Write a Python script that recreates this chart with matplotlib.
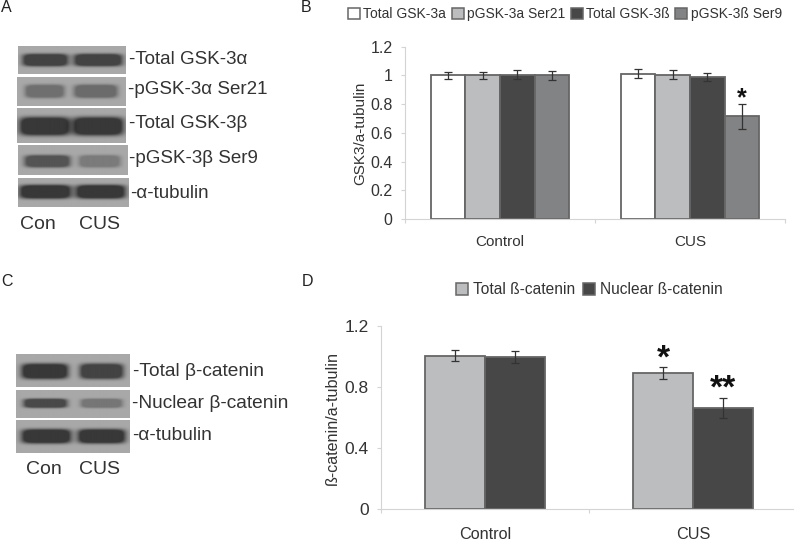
import numpy as np
import matplotlib as mpl
mpl.use('Agg')
from matplotlib import pyplot as plt
from matplotlib.patches import Patch

plt.rcParams['font.family'] = ['Liberation Sans', 'DejaVu Sans']

W, H = 800, 541
TEXT = '#333333'

# bar data
groups = ['Control', 'CUS']

gsk_names = ['Total GSK-3a', 'pGSK-3a Ser21', 'Total GSK-3ß', 'pGSK-3ß Ser9']
gsk_control = [1.0, 1.0, 1.005, 1.0]
gsk_cus = [1.012, 1.005, 0.99, 0.715]
gsk_control_err = [0.025, 0.025, 0.03, 0.03]
gsk_cus_err = [0.03, 0.03, 0.03, 0.085]
gsk_ticks = [0, 0.2, 0.4, 0.6, 0.8, 1, 1.2]
gsk_colors = ['#ffffff', '#bcbdbf', '#474748', '#828384']

cat_names = ['Total ß-catenin', 'Nuclear ß-catenin']
cat_control = [1.005, 0.995]
cat_cus = [0.89, 0.665]
cat_control_err = [0.035, 0.04]
cat_cus_err = [0.04, 0.065]
cat_ticks = [0, 0.4, 0.8, 1.2]
cat_colors = ['#bcbdbf', '#474748']

# blot labels and how dark each band looks (Con, CUS)
blot_a_labels = ['-Total GSK-3α', '-pGSK-3α Ser21', '-Total GSK-3β', '-pGSK-3β Ser9', '-α-tubulin']
blot_a_strength = [(0.9, 0.9), (0.5, 0.55), (1.0, 1.0), (0.75, 0.4), (1.0, 1.0)]
blot_c_labels = ['-Total β-catenin', '-Nuclear β-catenin', '-α-tubulin']
blot_c_strength = [(1.0, 0.9), (0.85, 0.45), (1.0, 1.0)]

# blot layout in pixels: box x0, x1, y0, y1, band spans, band y, band half height
layout_a = [
    (17.5, 125, 45.5, 74, (22, 67), (73, 121), 60, 6),
    (17, 126, 77, 106, (25, 64), (74, 117), 91, 6.5),
    (16.5, 125, 108, 143, (19, 69), (72, 122), 126, 9),
    (17.5, 127, 145, 175, (24, 69), (78, 119), 161, 6),
    (17.5, 128, 178, 207, (19, 70), (75, 124), 192, 6.5),
]
layout_c = [
    (15.5, 129, 354, 387, (21, 67), (79, 122), 371, 7.5),
    (15.5, 129, 390, 418, (23, 66), (80, 121), 403, 4.5),
    (15.5, 129, 420, 453, (21, 70), (77, 124), 436, 7),
]
text_a = [(129, 59), (128, 90), (129, 123), (129, 159), (130, 193)]
text_c = [(133, 371), (132, 404), (132, 436)]


def px_axes(fig, x0, y0, x1, y1):
    return fig.add_axes([x0 / W, 1 - y1 / H, (x1 - x0) / W, (y1 - y0) / H])


def draw_blot(fig, box, strength):
    x0, x1, y0, y1, con, cus, yc, hh = box
    ax = px_axes(fig, x0, y0, x1, y1)
    xs = np.arange(x0, x1, 0.5)
    ys = np.arange(y0, y1, 0.5)
    xx, yy = np.meshgrid(xs, ys)
    img = np.full(xx.shape, 0.66)
    for span, s in zip((con, cus), strength):
        cx = (span[0] + span[1]) / 2
        a = (span[1] - span[0]) / 2
        r = np.abs((xx - cx) / a) ** 6 + np.abs((yy - yc) / hh) ** 4
        # flat dark core with a soft rim
        img -= 0.44 * s * np.minimum(1, 1.7 * np.exp(-r))
    ax.imshow(img, cmap='gray', vmin=0, vmax=1, aspect='auto', interpolation='bilinear',
              extent=(x0, x1, y1, y0))
    ax.set_axis_off()


def draw_bars(ax, control, cus, control_err, cus_err, colors, names, ticks, group_frac, xmax):
    n = len(names)
    width = group_frac / n
    for i in range(n):
        x = np.array([0.5, 1.5]) + (i - (n - 1) / 2) * width
        ax.bar(x, [control[i], cus[i]], width, color=colors[i], edgecolor='#666666',
               linewidth=1.3, zorder=2)
        ax.errorbar(x, [control[i], cus[i]], yerr=[control_err[i], cus_err[i]], fmt='none',
                    ecolor='#333333', elinewidth=0.9, capsize=3.2, capthick=0.9, zorder=3)
    ax.set_xlim(0, xmax)
    ax.set_ylim(0, 1.2)
    ax.set_yticks(ticks)
    ax.set_yticklabels([f'{t:g}' for t in ticks])
    ax.set_xticks([t for t in (0, 1, 2) if t <= xmax])
    ax.set_xticklabels([])
    ax.set_xticks([0.5, 1.5], minor=True)
    ax.set_xticklabels(groups, minor=True)
    ax.tick_params(axis='x', which='minor', length=0, labelcolor=TEXT)
    ax.tick_params(axis='x', which='major', length=3, color='#d4d4d4')
    ax.tick_params(axis='y', length=3, color='#d4d4d4', labelcolor=TEXT)
    for side in ('top', 'right'):
        ax.spines[side].set_visible(False)
    for side in ('left', 'bottom'):
        ax.spines[side].set_color('#d4d4d4')


fig = plt.figure(figsize=(W / 100, H / 100), dpi=100)

# panels A and C
for box, s in zip(layout_a, blot_a_strength):
    draw_blot(fig, box, s)
for box, s in zip(layout_c, blot_c_strength):
    draw_blot(fig, box, s)
for label, (x, y) in zip(blot_a_labels, text_a):
    fig.text(x / W, 1 - y / H, label, fontsize=13.5, color=TEXT, va='center')
for label, (x, y) in zip(blot_c_labels, text_c):
    fig.text(x / W, 1 - y / H, label, fontsize=13.8, color=TEXT, va='center')
for y in (225, 469):
    fig.text(38 / W if y == 225 else 44 / W, 1 - y / H, 'Con', fontsize=14, color=TEXT, ha='center', va='center')
    fig.text(100 / W, 1 - y / H, 'CUS', fontsize=14, color=TEXT, ha='center', va='center')

for letter, x, y in [('A', 1, 8), ('B', 301, 8), ('C', 1, 282), ('D', 302, 281)]:
    fig.text(x / W, 1 - y / H, letter, fontsize=11.5, color='#222222', va='center')

# panel B
ax_b = px_axes(fig, 405, 46.7, 785, 219)
draw_bars(ax_b, gsk_control, gsk_cus, gsk_control_err, gsk_cus_err, gsk_colors, gsk_names,
          gsk_ticks, 0.728, 2)
ax_b.tick_params(axis='x', which='minor', labelsize=11, pad=11.5)
ax_b.tick_params(axis='y', labelsize=11.5, pad=6)
ax_b.set_ylabel('GSK3/a-tubulin', fontsize=11, color=TEXT, labelpad=2)
ax_b.text(1.5 + 1.5 * 0.728 / 4, 0.84, '*', fontsize=18, fontweight='bold', color='#111111',
          ha='center', va='center')
handles_b = [Patch(facecolor=c, edgecolor='#666666', linewidth=1.1) for c in gsk_colors]
fig.legend(handles_b, gsk_names, ncol=4, frameon=False, fontsize=10, labelcolor=TEXT,
           loc='center', bbox_to_anchor=(565 / W, 1 - 14 / H), handlelength=0.85, handleheight=0.85,
           handletextpad=0.25, columnspacing=0.4, borderpad=0)

# panel D
ax_d = px_axes(fig, 381, 326, 793, 509.3)
draw_bars(ax_d, cat_control, cat_cus, cat_control_err, cat_cus_err, cat_colors, cat_names,
          cat_ticks, 0.575, 1.98)
ax_d.tick_params(axis='x', which='minor', labelsize=11.7, pad=13)
ax_d.tick_params(axis='y', labelsize=12.5, pad=6)
ax_d.set_ylabel('ß-catenin/a-tubulin', fontsize=11.6, color=TEXT, labelpad=3)
ax_d.text(1.5 - 0.144, 0.985, '*', fontsize=24, fontweight='bold', color='#111111', ha='center', va='center')
ax_d.text(1.5 + 0.144, 0.785, '**', fontsize=24, fontweight='bold', color='#111111', ha='center', va='center')
handles_d = [Patch(facecolor=c, edgecolor='#666666', linewidth=1.1) for c in cat_colors]
fig.legend(handles_d, cat_names, ncol=2, frameon=False, fontsize=11.2, labelcolor=TEXT,
           loc='center', bbox_to_anchor=(589 / W, 1 - 290 / H), handlelength=0.8, handleheight=0.8,
           handletextpad=0.3, columnspacing=0.5, borderpad=0)

fig.savefig('out.png', dpi=100)
